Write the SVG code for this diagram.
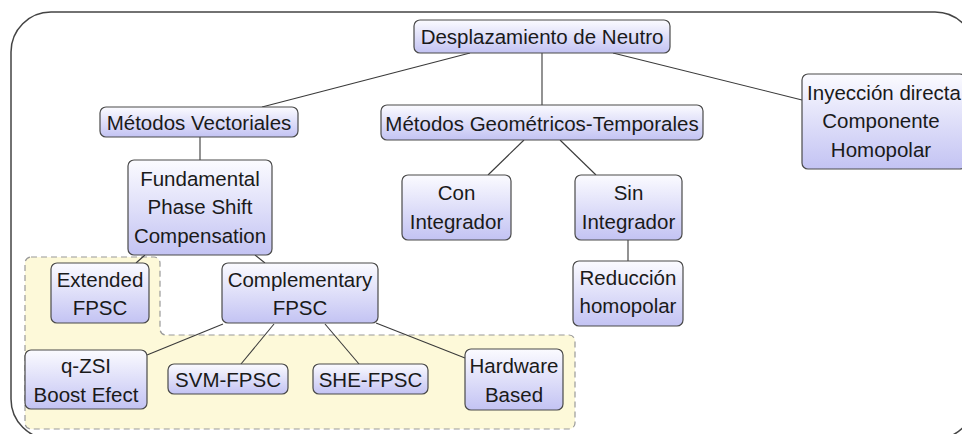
<svg xmlns="http://www.w3.org/2000/svg" width="962" height="434" viewBox="0 0 962 434">
<defs>
<linearGradient id="g" x1="0" y1="0" x2="0" y2="1">
<stop offset="0" stop-color="#fbfbff"/>
<stop offset="1" stop-color="#c3c3f3"/>
</linearGradient>
<style>
.n{fill:url(#g);stroke:#4a4a4a;stroke-width:1.2}
text{font-family:"Liberation Sans",Arial,sans-serif;font-size:20.5px;fill:#1a1a1a;text-anchor:middle}
.c line{stroke:#3a3a3a;stroke-width:1.1}
</style>
</defs>
<rect width="962" height="434" fill="#ffffff"/>
<rect x="11" y="12" width="964" height="427" rx="40" fill="none" stroke="#444" stroke-width="1.5"/>
<path d="M31,257 H154 a6,6 0 0 1 6,6 V329 a6,6 0 0 0 6,6 H569 a6,6 0 0 1 6,6 V423 a6,6 0 0 1 -6,6 H31 a6,6 0 0 1 -6,-6 V263 a6,6 0 0 1 6,-6 Z" fill="#fdf9d9" stroke="#9a9a9a" stroke-width="1.2" stroke-dasharray="6,4"/>
<g class="c">
<line x1="470" y1="53" x2="262" y2="107"/>
<line x1="542" y1="53" x2="542" y2="105"/>
<line x1="613" y1="53" x2="802" y2="100"/>
<line x1="200" y1="137" x2="200" y2="160"/>
<line x1="524" y1="140" x2="488" y2="175"/>
<line x1="560" y1="140" x2="596" y2="175"/>
<line x1="628" y1="240" x2="628" y2="261"/>
<line x1="145" y1="255" x2="136" y2="263"/>
<line x1="255" y1="255" x2="265" y2="263"/>
<line x1="223" y1="324" x2="147" y2="355"/>
<line x1="274" y1="324" x2="241" y2="364"/>
<line x1="325" y1="324" x2="359" y2="364"/>
<line x1="376" y1="323" x2="465" y2="358"/>
</g>
<g id="root"><rect class="n" x="414" y="20" width="256" height="33" rx="6"/><text x="542" y="43.5">Desplazamiento de Neutro</text></g>
<g id="vect"><rect class="n" x="100" y="107" width="198" height="30" rx="6"/><text x="199" y="130">Métodos Vectoriales</text></g>
<g id="geo"><rect class="n" x="381" y="105" width="322" height="35" rx="6"/><text x="542" y="130.5">Métodos Geométricos-Temporales</text></g>
<g id="iny"><rect class="n" x="802" y="74" width="164" height="95" rx="6"/><text x="884" y="99.5">Inyección directa</text><text x="881" y="128">Componente</text><text x="881" y="156.5">Homopolar</text></g>
<g id="fpsc"><rect class="n" x="128" y="160" width="144" height="95" rx="6"/><text x="200" y="185.5">Fundamental</text><text x="200" y="214">Phase Shift</text><text x="200" y="242.5">Compensation</text></g>
<g id="con"><rect class="n" x="402" y="175" width="109" height="65" rx="6"/><text x="456.5" y="199.5">Con</text><text x="456.5" y="228.5">Integrador</text></g>
<g id="sin"><rect class="n" x="575" y="175" width="107" height="65" rx="6"/><text x="628.5" y="199.5">Sin</text><text x="628.5" y="228.5">Integrador</text></g>
<g id="red"><rect class="n" x="573" y="261" width="110" height="65" rx="6"/><text x="628" y="284.5">Reducción</text><text x="628" y="312.5">homopolar</text></g>
<g id="ext"><rect class="n" x="51" y="263" width="98" height="60" rx="6"/><text x="100" y="286.5">Extended</text><text x="100" y="314.5">FPSC</text></g>
<g id="comp"><rect class="n" x="222" y="263" width="156" height="60" rx="6"/><text x="300" y="286.5">Complementary</text><text x="300" y="314.5">FPSC</text></g>
<g id="qzsi"><rect class="n" x="25" y="350" width="122" height="59" rx="6"/><text x="86" y="372.5">q-ZSI</text><text x="86" y="401.5">Boost Efect</text></g>
<g id="svm"><rect class="n" x="168" y="364" width="120" height="30" rx="6"/><text x="228" y="387">SVM-FPSC</text></g>
<g id="she"><rect class="n" x="313" y="364" width="115" height="30" rx="6"/><text x="370.5" y="387">SHE-FPSC</text></g>
<g id="hw"><rect class="n" x="465" y="349" width="98" height="61" rx="6"/><text x="514" y="372.5">Hardware</text><text x="514" y="401.5">Based</text></g>
</svg>
